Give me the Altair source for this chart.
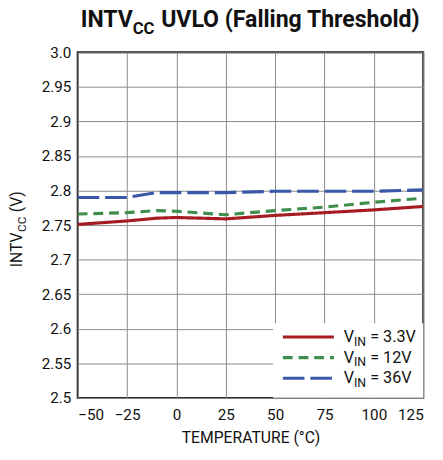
import altair as alt
import pandas as pd

# ---- data ----
temps = [-50, -25, -10, 0, 25, 50, 75, 100, 125]
vin33 = [2.751, 2.756, 2.760, 2.761, 2.759, 2.764, 2.768, 2.772, 2.777]
vin12 = [2.766, 2.768, 2.771, 2.770, 2.765, 2.771, 2.776, 2.783, 2.789]
vin36 = [2.790, 2.790, 2.797, 2.797, 2.797, 2.799, 2.799, 2.799, 2.801]

series = ["3.3V", "12V", "36V"]
colors = ["#A51D23", "#3E8E4E", "#3A58A8"]
dashes = [[1, 0], [10, 6], [22, 6]]

x_ticks = [-50, -25, 0, 25, 50, 75, 100, 125]
y_ticks = [2.5, 2.55, 2.6, 2.65, 2.7, 2.75, 2.8, 2.85, 2.9, 2.95, 3.0]

rows = []
for name, vals in zip(series, [vin33, vin12, vin36]):
    for t, v in zip(temps, vals):
        rows.append({"series": name, "temp": t, "v": v})
df = pd.DataFrame(rows)

W = H = 352
FONT = "Roboto, Liberation Sans, sans-serif"
INK = "#111111"


def txt(s, x, y, size, bold=False, angle=0, align="left", baseline="alphabetic"):
    kw = dict(font=FONT, fontSize=size, fontWeight="bold" if bold else "normal",
              align=align, baseline=baseline, color=INK)
    if angle:
        kw["angle"] = angle
    return alt.Chart(pd.DataFrame({"label": [s]})).mark_text(**kw).encode(
        text="label:N", x=alt.value(x), y=alt.value(y))


lines = alt.Chart(df).mark_line(strokeWidth=3.2, clip=True).encode(
    x=alt.X("temp:Q", scale=alt.Scale(domain=[-50, 125], nice=False),
            axis=alt.Axis(values=x_ticks, title="TEMPERATURE (°C)",
                          labelExpr="replace(format(datum.value, 'd'), '-', '\u2212')")),
    y=alt.Y("v:Q", scale=alt.Scale(domain=[2.5, 3.0], nice=False, zero=False),
            axis=alt.Axis(values=y_ticks, title=None,
                          labelExpr="datum.value >= 2.999 ? '3.0' : format(datum.value, '.3~f')")),
    color=alt.Color("series:N", scale=alt.Scale(domain=series, range=colors), legend=None),
    strokeDash=alt.StrokeDash("series:N", scale=alt.Scale(domain=series, range=dashes), legend=None),
    detail="series:N",
)

# legend box
legend_bg = alt.Chart(pd.DataFrame({"a": [0]})).mark_rect(color="white").encode(
    x=alt.value(199), x2=alt.value(W), y=alt.value(276), y2=alt.value(H))

layers = [lines, legend_bg]
row_y = [290, 311, 332]
for name, col, dash, yy in zip(series, colors, dashes, row_y):
    layers.append(alt.Chart(pd.DataFrame({"s": [name]})).mark_rule(
        color=col, strokeWidth=3.2, strokeDash=dash).encode(
        x=alt.value(209), x2=alt.value(261), y=alt.value(yy)))
    layers.append(txt("V", 271, yy, 16.5, baseline="middle"))
    layers.append(txt("IN", 281.5, yy + 5, 12.5, baseline="middle"))
    layers.append(txt("= " + name, 298, yy, 16.5, baseline="middle"))

# title with subscript
layers.append(txt("INTV", 3, -26, 23.5, bold=True))
layers.append(txt("CC", 56, -19, 17, bold=True))
layers.append(txt("UVLO (Falling Threshold)", 85, -26, 23.5, bold=True))

# y-axis title with subscript (rotated)
layers.append(txt("INTV", -62, 219, 16, angle=270, baseline="middle"))
layers.append(txt("CC", -57, 183, 12, angle=270, baseline="middle"))
layers.append(txt("(V)", -62, 163, 16, angle=270, baseline="middle"))

chart = alt.layer(*layers).properties(
    width=W, height=H,
    autosize=alt.AutoSizeParams(type="none"),
    padding={"left": 71, "top": 41, "right": 12, "bottom": 52},
).configure_view(
    stroke="#1a1a1a", strokeWidth=2,
).configure_axis(
    grid=True, gridColor="#8a8a8a", gridWidth=1, domain=False, ticks=False,
    labelFont=FONT, labelFontSize=15.5, labelColor=INK,
    titleFont=FONT, titleFontSize=16, titleFontWeight="normal", titleColor=INK,
).configure_axisX(labelPadding=10, titlePadding=7).configure_axisY(labelPadding=7)

chart.save("out.html", embed_options={"renderer": "svg", "actions": False})
